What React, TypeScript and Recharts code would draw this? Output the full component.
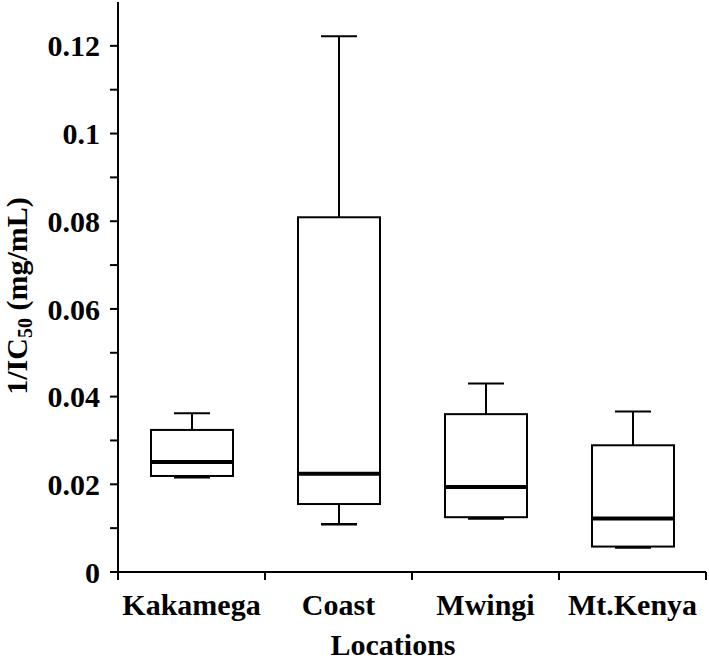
import React from 'react';
import { ComposedChart, Bar, XAxis, YAxis } from 'recharts';

// box plot values (1/IC50, mg/mL)
const categories = ['Kakamega', 'Coast', 'Mwingi', 'Mt.Kenya'];
const minVals = [0.0216, 0.0109, 0.0122, 0.0056];
const q1Vals = [0.0219, 0.0155, 0.0125, 0.0058];
const medianVals = [0.0251, 0.0224, 0.0194, 0.0122];
const q3Vals = [0.0324, 0.0809, 0.036, 0.0289];
const maxVals = [0.0362, 0.1222, 0.043, 0.0366];

const yTicks = [0, 0.01, 0.02, 0.03, 0.04, 0.05, 0.06, 0.07, 0.08, 0.09, 0.1, 0.11, 0.12];

const TEXT_STYLE: React.CSSProperties = {
  fontFamily: 'Liberation Serif, Tinos, Times New Roman, serif',
  fontWeight: 700,
  fontSize: 30,
};
const CHART_W = 709;
const CHART_H = 662;
const X_AXIS_H = 90;
const Y_AXIS_W = 118;
const MARGIN = { top: 2, right: 3, bottom: 0, left: 0 };
const PLOT_BOTTOM = CHART_H - X_AXIS_H;
const HALF_BAND = (CHART_W - MARGIN.right - Y_AXIS_W) / categories.length / 2;

const data = categories.map((name, i) => ({
  name,
  range: [minVals[i], maxVals[i]],
  min: minVals[i],
  q1: q1Vals[i],
  median: medianVals[i],
  q3: q3Vals[i],
  max: maxVals[i],
}));

// draws whiskers, box and median inside the [min, max] range bar
function BoxShape(props: any) {
  const { x, y, width, height, payload } = props;
  const top = Math.min(y, y + height);
  const h = Math.abs(height);
  const k = h / (payload.max - payload.min);
  const yOf = (v: number) => top + (payload.max - v) * k;
  const cx = x + width / 2;
  const cap = 18;
  const yMax = yOf(payload.max);
  const yQ3 = yOf(payload.q3);
  const yMed = yOf(payload.median);
  const yQ1 = yOf(payload.q1);
  const yMin = yOf(payload.min);
  return (
    <g stroke="#000" fill="none">
      <line x1={cx} y1={yMax} x2={cx} y2={yQ3} strokeWidth={2} />
      <line x1={cx - cap} y1={yMax} x2={cx + cap} y2={yMax} strokeWidth={2} />
      <line x1={cx} y1={yQ1} x2={cx} y2={yMin} strokeWidth={2} />
      <line x1={cx - cap} y1={yMin} x2={cx + cap} y2={yMin} strokeWidth={2.5} />
      <rect x={x} y={yQ3} width={width} height={yQ1 - yQ3} strokeWidth={2} fill="#fff" />
      <line x1={x - 1} y1={yMed} x2={x + width + 1} y2={yMed} strokeWidth={4} />
    </g>
  );
}

function XTick(props: any) {
  const { x, payload, index } = props;
  const half = payload && payload.offset ? payload.offset : HALF_BAND;
  return (
    <g>
      <line x1={x - half} y1={PLOT_BOTTOM} x2={x - half} y2={PLOT_BOTTOM + 8} stroke="#000" strokeWidth={2} />
      {index === categories.length - 1 && (
        <line x1={x + half} y1={PLOT_BOTTOM} x2={x + half} y2={PLOT_BOTTOM + 8} stroke="#000" strokeWidth={2} />
      )}
      <text x={x} y={615} textAnchor="middle" style={TEXT_STYLE} fill="#000">
        {payload.value}
      </text>
    </g>
  );
}

function YTick(props: any) {
  const { x, y, payload } = props;
  if (Math.round(payload.value * 100) % 2 !== 0) return null;
  return (
    <text x={x} y={y} dy="0.355em" textAnchor="end" style={TEXT_STYLE} fill="#000">
      {String(payload.value)}
    </text>
  );
}

function YLabel() {
  return (
    <text x={27} y={296} transform="rotate(-90, 27, 296)" textAnchor="middle" style={TEXT_STYLE} fill="#000">
      1/IC<tspan style={{ fontSize: 20 }} dy={5}>50</tspan>
      <tspan dy={-5}> (mg/mL)</tspan>
    </text>
  );
}

function XLabel() {
  return (
    <text x={393} y={655} textAnchor="middle" style={TEXT_STYLE} fill="#000">
      Locations
    </text>
  );
}

export default function App() {
  return (
    <div style={{ position: 'absolute', top: 0, left: 0, background: '#fff' }}>
      <ComposedChart width={CHART_W} height={CHART_H} data={data} margin={MARGIN} barCategoryGap={0}>
        <XAxis
          dataKey="name"
          height={X_AXIS_H}
          tickLine={false}
          axisLine={{ stroke: '#000', strokeWidth: 2 }}
          tick={<XTick />}
          interval={0}
          label={<XLabel />}
        />
        <YAxis
          width={Y_AXIS_W}
          domain={[0, 0.13]}
          ticks={yTicks}
          interval={0}
          tickSize={8}
          tickMargin={10}
          tickLine={{ stroke: '#000', strokeWidth: 2 }}
          axisLine={{ stroke: '#000', strokeWidth: 2 }}
          tick={<YTick />}
          label={<YLabel />}
        />
        <Bar dataKey="range" barSize={82} shape={<BoxShape />} isAnimationActive={false} />
      </ComposedChart>
    </div>
  );
}
